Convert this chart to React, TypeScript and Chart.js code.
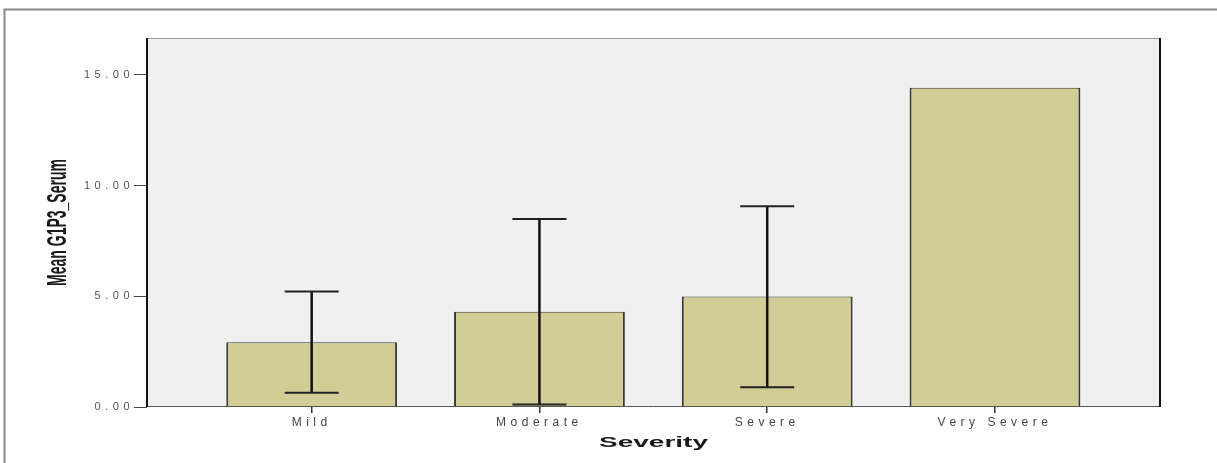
import React, { useEffect, useRef } from "react";
import { Chart, registerables } from "chart.js";

Chart.register(...registerables);

const categories = ["Mild", "Moderate", "Severe", "Very Severe"];
const means = [2.92, 4.3, 4.99, 14.42];
const errLow: (number | null)[] = [0.64, 0.11, 0.89, null];
const errHigh: (number | null)[] = [5.22, 8.49, 9.07, null];
const yTicks = [0, 5, 10, 15];
const yTitle = "Mean G1P3_Serum";
const xTitle = "Severity";

const framePlugin = {
  id: "spssFrame",
  beforeDraw(chart: any) {
    const { ctx, chartArea } = chart;
    ctx.save();
    ctx.fillStyle = "#f0f0f0";
    ctx.fillRect(chartArea.left, chartArea.top, chartArea.right - chartArea.left, chartArea.bottom - chartArea.top);
    // outer frame
    ctx.strokeStyle = "#8a8a8a";
    ctx.lineWidth = 2;
    ctx.beginPath();
    ctx.moveTo(4.5, chart.height);
    ctx.lineTo(4.5, 9.5);
    ctx.lineTo(chart.width, 9.5);
    ctx.stroke();
    ctx.restore();
    (ctx as any).letterSpacing = "4.5px";
  },
  afterDatasetsDraw(chart: any) {
    const { ctx, chartArea, scales } = chart;
    const x = scales.x;
    const y = scales.y;
    ctx.save();
    // error bars
    for (let i = 0; i < categories.length; i++) {
      const lo = errLow[i];
      const hi = errHigh[i];
      if (lo == null || hi == null) continue;
      const cx = x.getPixelForValue(i + 1);
      const yl = y.getPixelForValue(lo);
      const yh = y.getPixelForValue(hi);
      ctx.strokeStyle = "#111";
      ctx.lineWidth = 2.5;
      ctx.beginPath();
      ctx.moveTo(cx, yh);
      ctx.lineTo(cx, yl);
      ctx.stroke();
      ctx.lineWidth = 2;
      ctx.strokeStyle = "#222";
      ctx.beginPath();
      ctx.moveTo(cx - 27, yh);
      ctx.lineTo(cx + 27, yh);
      ctx.moveTo(cx - 27, yl);
      ctx.lineTo(cx + 27, yl);
      ctx.stroke();
    }
    // plot frame
    ctx.lineWidth = 1;
    ctx.strokeStyle = "#9a9a9a";
    ctx.beginPath();
    ctx.moveTo(chartArea.left, chartArea.top + 0.5);
    ctx.lineTo(chartArea.right, chartArea.top + 0.5);
    ctx.stroke();
    ctx.strokeStyle = "#555";
    ctx.beginPath();
    ctx.moveTo(chartArea.left, chartArea.bottom - 0.5);
    ctx.lineTo(chartArea.right, chartArea.bottom - 0.5);
    ctx.stroke();
    ctx.strokeStyle = "#111";
    ctx.lineWidth = 2;
    ctx.beginPath();
    ctx.moveTo(chartArea.left, chartArea.top);
    ctx.lineTo(chartArea.left, chartArea.bottom);
    ctx.moveTo(chartArea.right, chartArea.top);
    ctx.lineTo(chartArea.right, chartArea.bottom);
    ctx.stroke();
    ctx.restore();
  },
  afterDraw(chart: any) {
    const { ctx, chartArea } = chart;
    (ctx as any).letterSpacing = "0px";
    ctx.save();
    ctx.fillStyle = "#1a1a1a";
    ctx.textAlign = "center";
    ctx.textBaseline = "middle";
    // y title
    ctx.save();
    ctx.translate(58, (chartArea.top + chartArea.bottom) / 2);
    ctx.rotate(-Math.PI / 2);
    ctx.scale(1, 2);
    ctx.font = 'bold 14px "Liberation Sans", Arial, sans-serif';
    ctx.fillText(yTitle, 0, 0);
    ctx.restore();
    // x title
    ctx.save();
    ctx.translate((chartArea.left + chartArea.right) / 2, 443);
    ctx.scale(2, 1);
    ctx.font = 'bold 14px "Liberation Sans", Arial, sans-serif';
    ctx.fillText(xTitle, 0, 0);
    ctx.restore();
    ctx.restore();
  },
};

export default function App() {
  const ref = useRef<HTMLCanvasElement | null>(null);
  useEffect(() => {
    document.body.style.margin = "0";
    document.body.style.background = "#ffffff";
    if (!ref.current) return;
    const chart = new Chart(ref.current, {
      type: "bar",
      data: {
        datasets: [
          {
            data: means.map((v, i) => ({ x: i + 1, y: v })),
            backgroundColor: "#d2cd96",
            borderColor: "#3a3a30",
            borderWidth: { top: 1, left: 2, right: 2, bottom: 0 } as any,
            barPercentage: 0.75,
            categoryPercentage: 1,
          },
        ],
      },
      options: {
        animation: false,
        responsive: false,
        maintainAspectRatio: false,
        layout: { padding: { left: 0, right: 57, top: 38, bottom: 0 } },
        plugins: { legend: { display: false }, tooltip: { enabled: false }, title: { display: false } },
        scales: {
          x: {
            type: "linear",
            offset: false,
            min: 0.277,
            max: 4.7245,
            afterFit: (s: any) => {
              s.height = 56;
            },
            afterBuildTicks: (s: any) => {
              s.ticks = categories.map((_, i) => ({ value: i + 1 }));
            },
            border: { display: false },
            grid: { display: true, offset: false, drawOnChartArea: false, drawTicks: true, tickLength: 6, color: "#333", lineWidth: 1.5 },
            ticks: {
              callback: (v: any) => categories[Number(v) - 1] ?? "",
              color: "#444",
              font: { family: '"Liberation Sans", Arial, sans-serif', size: 12 },
              padding: 2,
              maxRotation: 0,
              autoSkip: false,
            },
          },
          y: {
            type: "linear",
            min: 0,
            max: 16.67,
            afterFit: (s: any) => {
              s.width = 147;
            },
            afterBuildTicks: (s: any) => {
              s.ticks = yTicks.map((v) => ({ value: v }));
            },
            border: { display: false },
            grid: { display: true, drawOnChartArea: false, drawTicks: true, tickLength: 13, color: "#444", lineWidth: 1 },
            ticks: {
              callback: (v: any) => Number(v).toFixed(2),
              color: "#555",
              font: { family: '"Liberation Sans", Arial, sans-serif', size: 11 },
              padding: 0,
            },
          },
        },
      },
      plugins: [framePlugin],
    });
    return () => chart.destroy();
  }, []);
  return <canvas ref={ref} width={1217} height={463} style={{ display: "block" }} />;
}
